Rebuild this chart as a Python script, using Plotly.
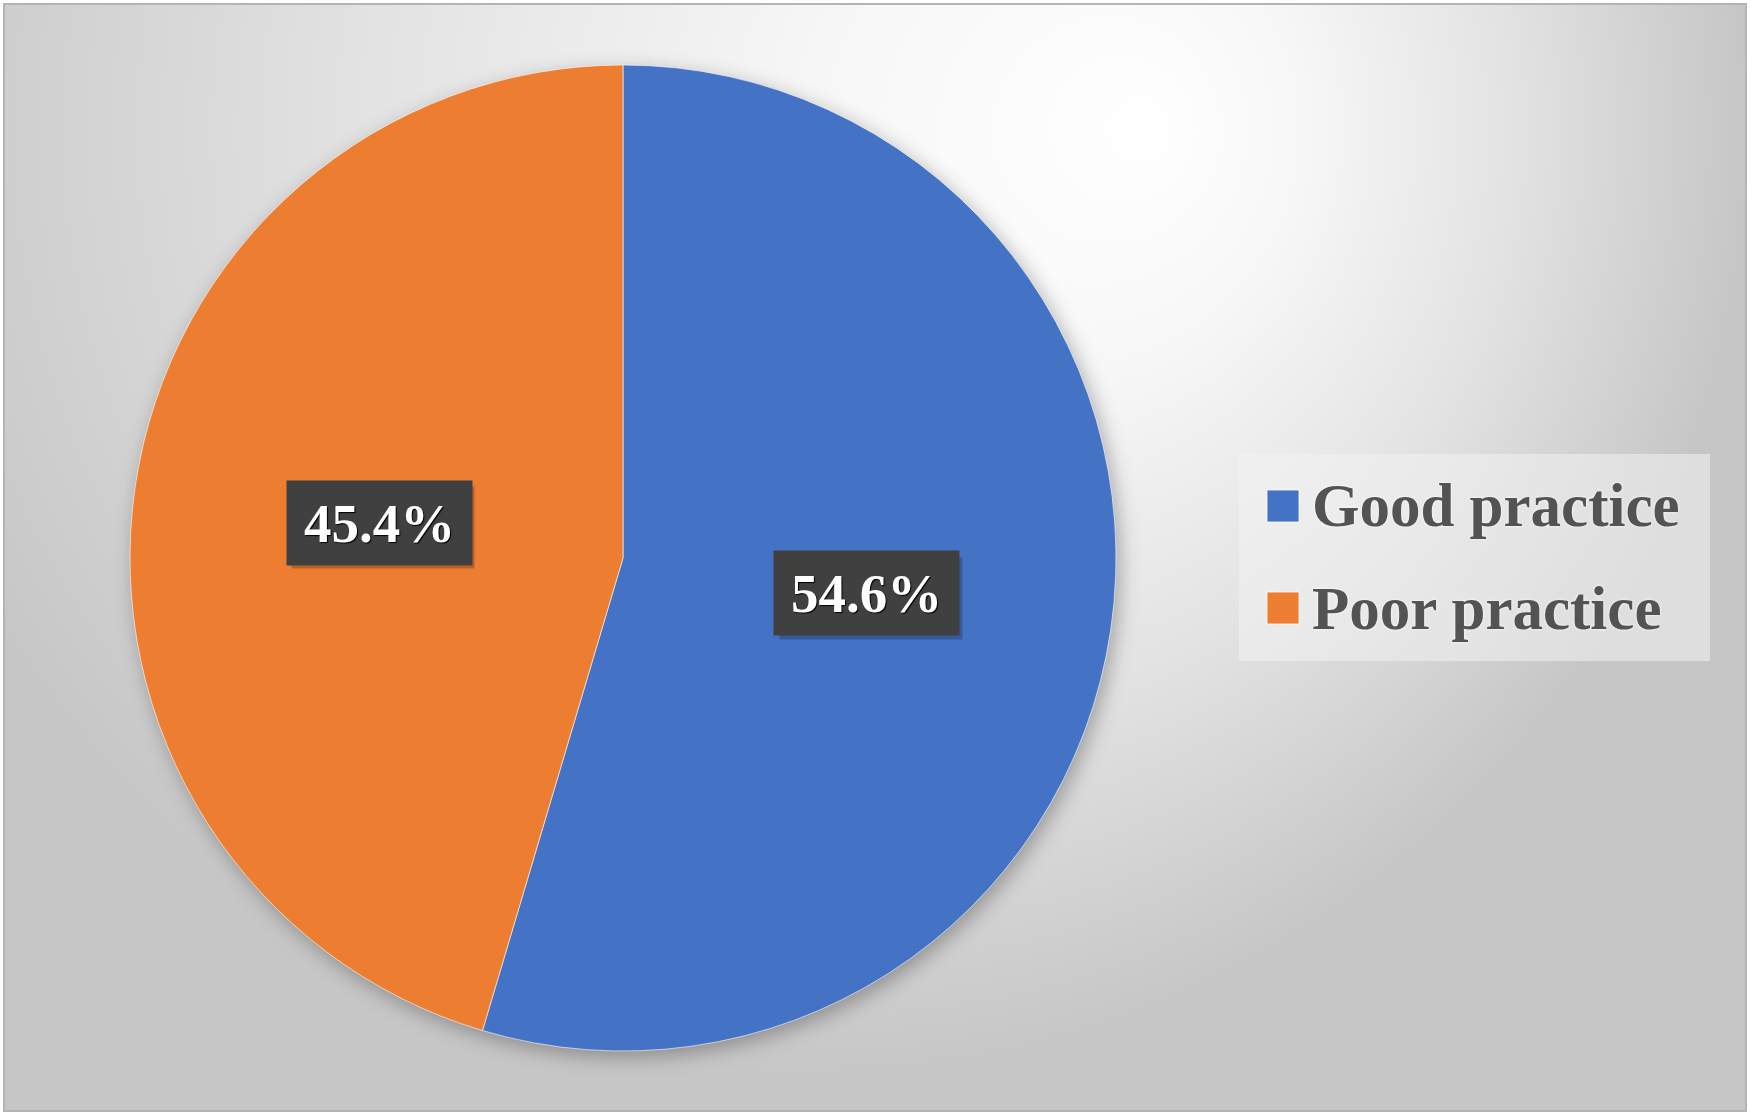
import base64
import math
import plotly.graph_objects as go

# ---------------- data ----------------
categories = ["Good practice", "Poor practice"]
values = [54.6, 45.4]
label_texts = ["54.6%", "45.4%"]
colors = ["#4472C4", "#ED7D31"]

# ---------------- layout constants ----------------
W, H = 1750, 1118
CX, CY, R = 623, 558, 493          # pie centre / radius in pixels
BOX_W, BOX_H = 183, 82             # label box size in pixels
SERIF = "Liberation Serif, Times New Roman, serif"


def px(x):
    return x / W


def py(y):
    return 1 - y / H


# background: radial grey gradient inside a framed panel + soft pie shadow
svg = f'''<svg xmlns="http://www.w3.org/2000/svg" width="{W}" height="{H}" viewBox="0 0 {W} {H}">
<defs>
<radialGradient id="g" gradientUnits="userSpaceOnUse" cx="800" cy="130" r="950" fx="1150" fy="130">
<stop offset="0" stop-color="#ffffff"/>
<stop offset="0.25" stop-color="#f7f7f7"/>
<stop offset="0.6" stop-color="#e3e3e3"/>
<stop offset="1" stop-color="#c6c6c6"/>
</radialGradient>
<filter id="b" x="-20%" y="-20%" width="140%" height="140%"><feGaussianBlur stdDeviation="10"/></filter>
</defs>
<rect width="{W}" height="{H}" fill="#ffffff"/>
<rect x="4" y="4" width="{W-8}" height="{H-11}" fill="url(#g)" stroke="#b4b4b4" stroke-width="2"/>
<circle cx="{CX+4}" cy="{CY+6}" r="{R}" fill="#000" fill-opacity="0.3" filter="url(#b)"/>
</svg>'''
bg_src = "data:image/svg+xml;base64," + base64.b64encode(svg.encode()).decode()

fig = go.Figure()
fig.add_trace(go.Pie(
    labels=categories,
    values=values,
    marker=dict(colors=colors, line=dict(color="rgba(255,255,255,0.6)", width=1)),
    sort=False,
    direction="clockwise",
    rotation=0,
    textinfo="none",
    hoverinfo="label+percent",
    showlegend=False,
    domain=dict(x=[px(CX - R), px(CX + R)], y=[py(CY + R), py(CY - R)]),
))

annotations = []
shapes = []

# data labels in dark boxes at half radius along each slice's mid-angle
total = sum(values)
start = 0.0
for v, t in zip(values, label_texts):
    mid = (start + v / 2) / total * 2 * math.pi
    start += v
    lx = CX + 0.5 * R * math.sin(mid)
    ly = CY - 0.5 * R * math.cos(mid)
    # soft drop shadow of the label box
    sx, sy = lx + 4, ly + 5
    shapes.append(dict(
        type="rect", xref="paper", yref="paper",
        x0=px(sx - BOX_W / 2), x1=px(sx + BOX_W / 2),
        y0=py(sy + BOX_H / 2), y1=py(sy - BOX_H / 2),
        fillcolor="rgba(0,0,0,0.22)", line=dict(width=0),
    ))
    annotations.append(dict(
        x=px(lx), y=py(ly), xref="paper", yref="paper", showarrow=False,
        xanchor="center", yanchor="middle",
        text=f"<b>{t}</b>", width=BOX_W, height=BOX_H,
        bgcolor="#404040",
        font=dict(family=SERIF, size=55, color="white", shadow="1px 1px 1px #000"),
    ))

# custom legend
shapes.append(dict(
    type="rect", xref="paper", yref="paper",
    x0=px(1239), x1=px(1710), y0=py(661), y1=py(454),
    fillcolor="rgba(242,242,242,0.55)", line=dict(width=0), layer="below",
))
for i, (cat, col) in enumerate(zip(categories, colors)):
    rowy = 506 + i * 102
    shapes.append(dict(
        type="rect", xref="paper", yref="paper",
        x0=px(1267), x1=px(1299), y0=py(rowy + 16), y1=py(rowy - 16),
        fillcolor=col, line=dict(color="rgba(255,255,255,0.8)", width=1),
    ))
    annotations.append(dict(
        x=px(1310), y=py(rowy), xref="paper", yref="paper", showarrow=False,
        xanchor="left", yanchor="middle", text=f"<b>{cat}</b>",
        font=dict(family=SERIF, size=61, color="#535353",
                  shadow="0px 0px 3px #ffffff"),
    ))

fig.update_layout(
    width=W, height=H,
    margin=dict(l=0, r=0, t=0, b=0),
    paper_bgcolor="white",
    plot_bgcolor="rgba(0,0,0,0)",
    images=[dict(source=bg_src, xref="paper", yref="paper", x=0, y=1,
                 sizex=1, sizey=1, xanchor="left", yanchor="top",
                 sizing="stretch", layer="below")],
    shapes=shapes,
    annotations=annotations,
    showlegend=False,
)

fig.write_html("out.html",
               config={"displayModeBar": False},
               post_script="document.body.style.margin='0';document.body.style.overflow='hidden';")
